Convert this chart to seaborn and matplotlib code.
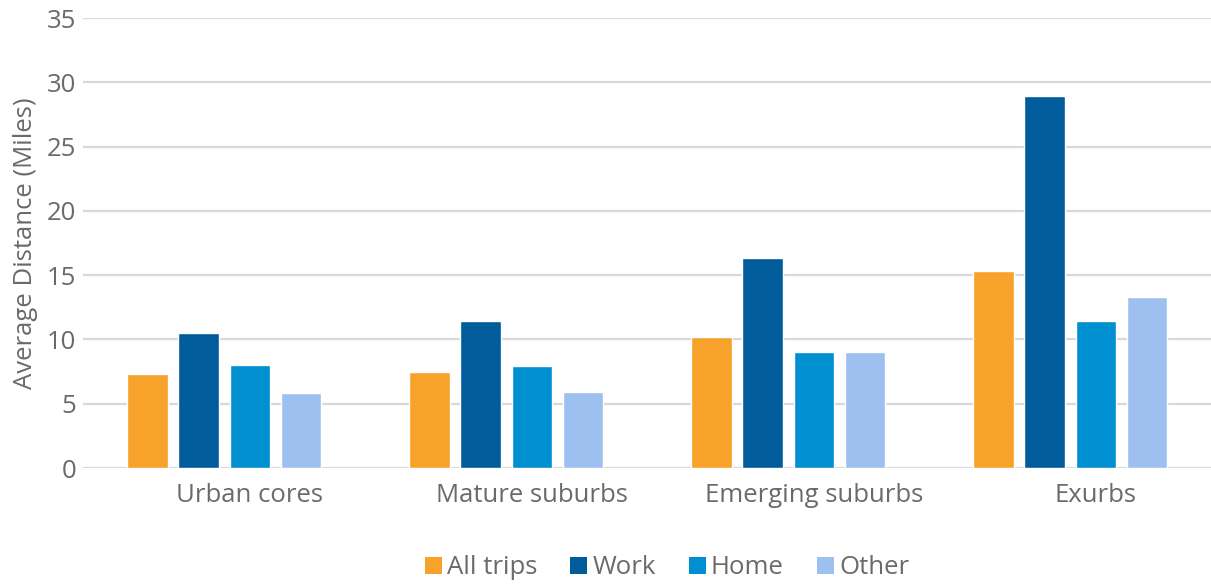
import matplotlib
matplotlib.use("Agg")
import matplotlib.pyplot as plt
import seaborn as sns
import pandas as pd
from matplotlib.patches import Patch

categories = ["Urban cores", "Mature suburbs", "Emerging suburbs", "Exurbs"]
series = ["All trips", "Work", "Home", "Other"]
all_trips = [7.3, 7.5, 10.2, 15.3]
work = [10.5, 11.4, 16.3, 28.9]
home = [8.0, 7.9, 9.0, 11.4]
other = [5.8, 5.9, 9.0, 13.3]
yticks = [0, 5, 10, 15, 20, 25, 30, 35]

colors = ["#F7A22A", "#005C9B", "#008FD0", "#9DC0F0"]

rows = []
for s, vals in zip(series, [all_trips, work, home, other]):
    for c, v in zip(categories, vals):
        rows.append({"Category": c, "Series": s, "Value": v})
df = pd.DataFrame(rows)

sns.set_theme(style="white")
plt.rcParams['font.family'] = ['Open Sans', 'DejaVu Sans']

fig = plt.figure(figsize=(12.11, 5.86), dpi=100)
W, H = 1211, 586
ax = fig.add_axes([83 / W, (H - 468) / H, (1211 - 83) / W, (468 - 18) / H])

hue_order = series + [" "]
palette = dict(zip(hue_order, colors + ["#ffffff"]))
sns.barplot(data=df, x="Category", y="Value", hue="Series", order=categories,
            hue_order=hue_order, palette=palette, width=0.905, gap=0.2,
            saturation=1, ax=ax, legend=False, errorbar=None, zorder=3)

TXT = "#6a6a6a"
FS = 18.5
ax.set_xlim(-0.592, 3.408)
ax.set_ylim(0, 35)
ax.set_yticks(yticks)
ax.set_yticklabels([str(t) for t in yticks])
for y in yticks:
    ax.axhline(y, color="#d9d9d9", lw=1.6, zorder=1)
for sp in ax.spines.values():
    sp.set_visible(False)
ax.tick_params(axis="both", length=0, labelsize=FS, colors=TXT)
ax.tick_params(axis="x", pad=11)
ax.tick_params(axis="y", pad=5)
ax.set_xlabel("")
ax.set_ylabel("Average Distance (Miles)", fontsize=FS, color=TXT, labelpad=6)

handles = [Patch(facecolor=c, edgecolor="none") for c in colors]
leg = fig.legend(handles, series, loc="center", bbox_to_anchor=(667 / W, 1 - 568 / H),
                 ncol=4, frameon=False, fontsize=FS, handlelength=0.65, handleheight=0.65,
                 handletextpad=0.2, columnspacing=1.3)
for t in leg.get_texts():
    t.set_color(TXT)

fig.savefig("out.png", dpi=100)
